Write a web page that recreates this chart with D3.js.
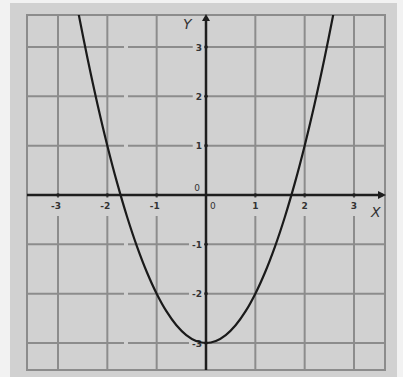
<!DOCTYPE html>
<html>
<head>
<meta charset="utf-8">
<script src="https://cdn.jsdelivr.net/npm/d3@7"></script>
<style>
  body { margin: 0; background: #f2f2f2; }
  svg { display: block; }
  text { font-family: "DejaVu Sans", sans-serif; fill: #333; }
</style>
</head>
<body>
<svg id="chart" width="403" height="377"></svg>
<script>
// values
const xTicks = [-3, -2, -1, 1, 2, 3];
const yTicks = [-3, -2, -1, 1, 2, 3];
const curveX = [-2.6, -2.4, -2.2, -2.0, -1.8, -1.6, -1.4, -1.2, -1.0, -0.8, -0.6, -0.4, -0.2, 0,
                0.2, 0.4, 0.6, 0.8, 1.0, 1.2, 1.4, 1.6, 1.8, 2.0, 2.2, 2.4, 2.6];
const curveY = [3.76, 2.76, 1.84, 1.0, 0.24, -0.44, -1.04, -1.56, -2.0, -2.36, -2.64, -2.84, -2.96, -3.0,
                -2.96, -2.84, -2.64, -2.36, -2.0, -1.56, -1.04, -0.44, 0.24, 1.0, 1.84, 2.76, 3.76];

const svg = d3.select("#chart");

const x = d3.scaleLinear().domain([-3, 3]).range([58, 354]);
const y = d3.scaleLinear().domain([-3, 3]).range([343, 47]);

// plot area edges (grid extends past the last ticks)
const gLeft = 27, gRight = 385, gTop = 15, gBottom = 370;

svg.append("rect")
  .attr("x", 10).attr("y", 3)
  .attr("width", 387).attr("height", 374)
  .attr("fill", "#d1d1d1");

const gridColor = "#8c8c8c";
const grid = svg.append("g")
  .attr("stroke", gridColor)
  .attr("stroke-width", 2);
const labels = svg.append("g");

// vertical grid lines, broken where the x labels sit
xTicks.forEach(t => {
  grid.append("line")
    .attr("x1", x(t)).attr("x2", x(t))
    .attr("y1", gTop).attr("y2", y(0) + 3);
  grid.append("line")
    .attr("x1", x(t)).attr("x2", x(t))
    .attr("y1", y(0) + 21).attr("y2", gBottom);
});

// y labels first so the grid lines can stop just before them
const fmt = d => d < 0 ? "-" + Math.abs(d) : String(d);
yTicks.forEach(t => {
  const lab = labels.append("text")
    .attr("x", x(0) - 4)
    .attr("y", y(t) + 3.5)
    .attr("text-anchor", "end")
    .attr("font-size", 9)
    .attr("font-weight", "bold")
    .text(fmt(t));
  const bx = lab.node().getBBox().x;
  // horizontal grid line: small gap near x = -1.6, then a break for the label
  grid.append("line")
    .attr("x1", gLeft).attr("x2", 124)
    .attr("y1", y(t)).attr("y2", y(t));
  grid.append("line")
    .attr("x1", 128).attr("x2", bx - 3)
    .attr("y1", y(t)).attr("y2", y(t));
  grid.append("line")
    .attr("x1", x(0)).attr("x2", gRight)
    .attr("y1", y(t)).attr("y2", y(t));
});

// frame
grid.append("rect")
  .attr("x", gLeft).attr("y", gTop)
  .attr("width", gRight - gLeft).attr("height", gBottom - gTop)
  .attr("fill", "none");

// axes
const axisColor = "#1e1e1e";
svg.append("line")
  .attr("x1", gLeft).attr("x2", gRight - 2)
  .attr("y1", y(0)).attr("y2", y(0))
  .attr("stroke", axisColor).attr("stroke-width", 2.5);
svg.append("line")
  .attr("x1", x(0)).attr("x2", x(0))
  .attr("y1", gBottom).attr("y2", gTop + 2)
  .attr("stroke", axisColor).attr("stroke-width", 2.5);

// arrowheads
svg.append("path")
  .attr("d", `M${gRight + 1},${y(0)} l-8,-4 l0,8 z`)
  .attr("fill", axisColor);
svg.append("path")
  .attr("d", `M${x(0)},${gTop - 1} l-4,7 l8,0 z`)
  .attr("fill", axisColor);

// tick dots
xTicks.forEach(t => {
  svg.append("circle").attr("cx", x(t)).attr("cy", y(0)).attr("r", 1.8).attr("fill", axisColor);
});
yTicks.forEach(t => {
  svg.append("circle").attr("cx", x(0)).attr("cy", y(t)).attr("r", 1.8).attr("fill", axisColor);
});

// x tick labels
svg.append("g").selectAll("text")
  .data(xTicks)
  .join("text")
  .attr("x", d => x(d) - (d < 0 ? 2 : 0))
  .attr("y", y(0) + 14)
  .attr("text-anchor", "middle")
  .attr("font-size", 9)
  .attr("font-weight", "bold")
  .text(fmt);

labels.raise();

svg.append("text")
  .attr("x", x(0) - 6).attr("y", y(0) - 4)
  .attr("text-anchor", "end")
  .attr("font-size", 9)
  .text("0");
svg.append("text")
  .attr("x", x(0) + 4).attr("y", y(0) + 14)
  .attr("font-size", 9)
  .text("0");

// axis names
svg.append("text")
  .attr("x", 183).attr("y", 29)
  .attr("font-family", "Liberation Serif, serif")
  .attr("font-style", "italic")
  .attr("font-size", 14)
  .text("Y");
svg.append("text")
  .attr("x", 371).attr("y", 217)
  .attr("font-family", "Liberation Serif, serif")
  .attr("font-style", "italic")
  .attr("font-size", 14)
  .text("X");

// the parabola, clipped to the frame
svg.append("clipPath").attr("id", "plot")
  .append("rect")
  .attr("x", gLeft).attr("y", gTop)
  .attr("width", gRight - gLeft).attr("height", gBottom - gTop);

const points = curveX.map((v, i) => [v, curveY[i]]);
const line = d3.line()
  .x(d => x(d[0]))
  .y(d => y(d[1]))
  .curve(d3.curveCatmullRom);

svg.append("path")
  .datum(points)
  .attr("clip-path", "url(#plot)")
  .attr("d", line)
  .attr("fill", "none")
  .attr("stroke", "#1a1a1a")
  .attr("stroke-width", 2.2);
</script>
</body>
</html>
